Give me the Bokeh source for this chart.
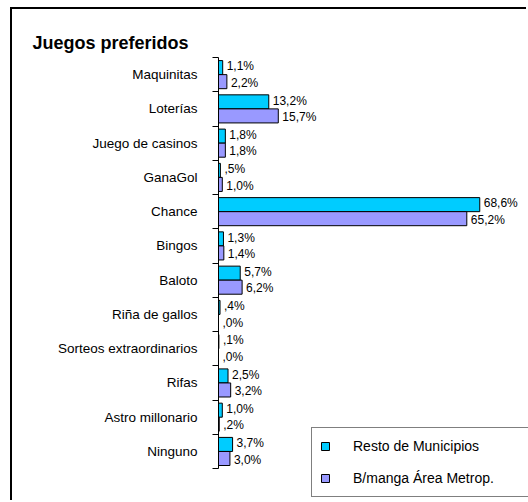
from bokeh.plotting import figure
from bokeh.models import ColumnDataSource, Range1d, Legend, LegendItem, FixedTicker
from bokeh.transform import dodge
from bokeh.core.properties import value
from bokeh.embed import file_html
from bokeh.resources import INLINE

categories = ["Maquinitas", "Loterías", "Juego de casinos", "GanaGol", "Chance",
              "Bingos", "Baloto", "Riña de gallos", "Sorteos extraordinarios",
              "Rifas", "Astro millonario", "Ninguno"]
resto = [1.1, 13.2, 1.8, 0.5, 68.6, 1.3, 5.7, 0.4, 0.1, 2.5, 1.0, 3.7]
bmanga = [2.2, 15.7, 1.8, 1.0, 65.2, 1.4, 6.2, 0.0, 0.0, 3.2, 0.2, 3.0]
series_names = ["Resto de Municipios", "B/manga Área Metrop."]
series_colors = ["#00CCFF", "#9999FF"]
title_text = "Juegos preferidos"


def fmt(v):
    s = f"{v:.1f}".replace(".", ",")
    if s.startswith("0,"):
        s = s[1:]
    return s + "%"


idx = list(range(len(categories)))
n = len(categories)

src = ColumnDataSource(dict(
    idx=idx, cat=categories, resto=resto, bmanga=bmanga,
    resto_lbl=[fmt(v) for v in resto],
    bmanga_lbl=[fmt(v) for v in bmanga],
))

FONT = "Liberation Sans"

p = figure(width=516, height=493,
           y_range=Range1d(start=n - 0.5 + 0.99, end=-0.5),
           x_range=Range1d(0, 81.4),
           output_backend="svg", toolbar_location=None,
           min_border_left=206, min_border_top=48, min_border_bottom=0,
           min_border_right=0,
           margin=(7, 0, 0, 10),
           styles={"border-left": "2px solid black",
                   "border-top": "2px solid black"})

p.title.text = title_text
p.title.text_font = FONT
p.title.text_font_size = "18px"
p.title.text_font_style = "bold"
p.title.text_color = "black"
p.title.align = "left"
p.title.offset = -186

p.xaxis.visible = False
p.grid.visible = False
p.outline_line_color = None

yax = p.yaxis[0]
yax.ticker = FixedTicker(ticks=idx, minor_ticks=[i - 0.5 for i in idx] + [n - 0.5])
yax.major_label_overrides = {i: c for i, c in zip(idx, categories)}
yax.bounds = (-0.5, n - 0.5)
yax.axis_line_color = "black"
yax.axis_line_width = 1
yax.major_tick_line_color = None
yax.major_tick_out = 0
yax.major_tick_in = 0
yax.minor_tick_line_color = "black"
yax.minor_tick_out = 6
yax.minor_tick_in = 0
yax.major_label_standoff = 15
yax.major_label_text_font = FONT
yax.major_label_text_font_size = "13.5px"
yax.major_label_text_color = "black"

r1 = p.hbar(y=dodge("idx", -0.205), left=0, right="resto",
            height=0.41, source=src, fill_color=series_colors[0],
            line_color="black", line_width=1)
r2 = p.hbar(y=dodge("idx", 0.205), left=0, right="bmanga",
            height=0.41, source=src, fill_color=series_colors[1],
            line_color="black", line_width=1)

p.text(x="resto", y=dodge("idx", -0.24), text="resto_lbl",
       x_offset=4, text_baseline="middle", text_align="left",
       text_font=value(FONT), text_font_size="12px", text_color="black",
       source=src)
p.text(x="bmanga", y=dodge("idx", 0.24), text="bmanga_lbl",
       x_offset=4, text_baseline="middle", text_align="left",
       text_font=value(FONT), text_font_size="12px", text_color="black",
       source=src)

legend = Legend(items=[LegendItem(label=series_names[0], renderers=[r1]),
                       LegendItem(label=series_names[1], renderers=[r2])],
                location=(93, 5), orientation="vertical",
                glyph_width=10, glyph_height=10, label_height=20,
                label_width=220, label_standoff=23, padding=8, spacing=12,
                border_line_color="black", border_line_width=1,
                background_fill_alpha=1.0,
                label_text_font=FONT, label_text_font_size="14px",
                label_text_color="black")
p.add_layout(legend, "center")

open("out.html", "w").write(file_html(p, INLINE))
